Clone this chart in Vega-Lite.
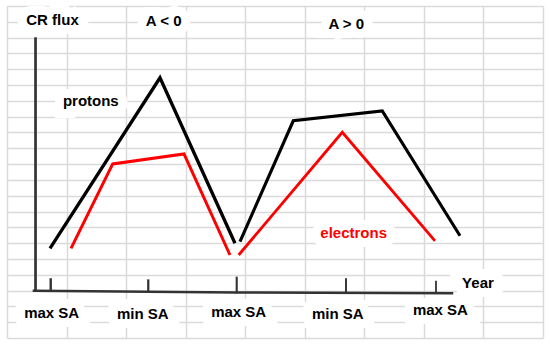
{
  "$schema": "https://vega.github.io/schema/vega-lite/v6.json",
  "width": 536,
  "height": 332,
  "autosize": {"type": "none"},
  "padding": {"left": 7, "top": 6, "right": 7, "bottom": 7},
  "background": "white",
  "config": {"view": {"stroke": null}},
  "datasets": {
    "lines": [
      {"seg": "p1", "series": "protons", "i": 0, "x": 0.722, "y": 5.674},
      {"seg": "p1", "series": "protons", "i": 1, "x": 2.569, "y": 16.46},
      {"seg": "p1", "series": "protons", "i": 2, "x": 3.828, "y": 5.99},
      {"seg": "p2", "series": "protons", "i": 0, "x": 3.912, "y": 6.09},
      {"seg": "p2", "series": "protons", "i": 1, "x": 4.807, "y": 13.74},
      {"seg": "p2", "series": "protons", "i": 2, "x": 6.301, "y": 14.36},
      {"seg": "p2", "series": "protons", "i": 3, "x": 7.606, "y": 6.47},
      {"seg": "e1", "series": "electrons", "i": 0, "x": 1.075, "y": 5.674},
      {"seg": "e1", "series": "electrons", "i": 1, "x": 1.775, "y": 11.01},
      {"seg": "e1", "series": "electrons", "i": 2, "x": 2.972, "y": 11.64},
      {"seg": "e1", "series": "electrons", "i": 3, "x": 3.744, "y": 5.25},
      {"seg": "e2", "series": "electrons", "i": 0, "x": 3.89, "y": 5.25},
      {"seg": "e2", "series": "electrons", "i": 1, "x": 5.63, "y": 13.01},
      {"seg": "e2", "series": "electrons", "i": 2, "x": 7.186, "y": 6.14},
      {"seg": "yaxis", "series": "axis", "i": 0, "x": 0.479, "y": 19.02},
      {"seg": "yaxis", "series": "axis", "i": 1, "x": 0.479, "y": 2.99},
      {"seg": "xaxis", "series": "axis", "i": 0, "x": 0.431, "y": 2.99},
      {"seg": "xaxis", "series": "axis", "i": 1, "x": 3.857, "y": 2.88},
      {"seg": "xaxis", "series": "axis", "i": 2, "x": 7.493, "y": 2.83},
      {"seg": "tick1", "series": "axis", "i": 0, "x": 0.734, "y": 3.78},
      {"seg": "tick1", "series": "axis", "i": 1, "x": 0.734, "y": 2.99},
      {"seg": "tick2", "series": "axis", "i": 0, "x": 2.372, "y": 3.71},
      {"seg": "tick2", "series": "axis", "i": 1, "x": 2.372, "y": 2.92},
      {"seg": "tick3", "series": "axis", "i": 0, "x": 3.857, "y": 3.88},
      {"seg": "tick3", "series": "axis", "i": 1, "x": 3.857, "y": 2.83},
      {"seg": "tick4", "series": "axis", "i": 0, "x": 5.692, "y": 3.78},
      {"seg": "tick4", "series": "axis", "i": 1, "x": 5.692, "y": 2.86},
      {"seg": "tick5", "series": "axis", "i": 0, "x": 7.203, "y": 3.62},
      {"seg": "tick5", "series": "axis", "i": 1, "x": 7.203, "y": 2.83}
    ],
    "labels": [
      {"text": "CR flux", "series": "annotation", "x": 0.764, "y": 19.8},
      {"text": "A < 0", "series": "annotation", "x": 2.631, "y": 19.75},
      {"text": "A > 0", "series": "annotation", "x": 5.697, "y": 19.53},
      {"text": "protons", "series": "protons", "x": 1.407, "y": 14.69},
      {"text": "electrons", "series": "electrons", "x": 5.821, "y": 6.31},
      {"text": "Year", "series": "annotation", "x": 7.908, "y": 3.14},
      {"text": "max SA", "series": "annotation", "x": 0.75, "y": 1.25},
      {"text": "min SA", "series": "annotation", "x": 2.28, "y": 1.2},
      {"text": "max SA", "series": "annotation", "x": 3.89, "y": 1.31},
      {"text": "min SA", "series": "annotation", "x": 5.554, "y": 1.2},
      {"text": "max SA", "series": "annotation", "x": 7.278, "y": 1.45}
    ]
  },
  "encoding": {
    "x": {
      "field": "x", "type": "quantitative",
      "scale": {"domain": [0, 9], "nice": false, "zero": false},
      "axis": {"values": [0,1,2,3,4,5,6,7,8,9], "grid": true, "gridColor": "#dadada", "gridWidth": 1.5, "labels": false, "ticks": false, "domain": false, "title": null, "minExtent": 0, "maxExtent": 0, "offset": 0}
    },
    "y": {
      "field": "y", "type": "quantitative",
      "scale": {"domain": [0, 21], "nice": false, "zero": false},
      "axis": {"values": [0,1,2,3,4,5,6,7,8,9,10,11,12,13,14,15,16,17,18,19,20,21], "grid": true, "gridColor": "#dadada", "gridWidth": 1.5, "labels": false, "ticks": false, "domain": false, "title": null, "minExtent": 0, "maxExtent": 0, "offset": 0}
    }
  },
  "layer": [
    {
      "data": {"name": "labels"},
      "mark": {"type": "text", "font": "Liberation Sans", "fontWeight": "bold", "fontSize": 15, "align": "center", "baseline": "alphabetic", "fill": "white", "stroke": "white", "strokeWidth": 18, "strokeJoin": "miter"},
      "encoding": {"text": {"field": "text"}}
    },
    {
      "data": {"name": "lines"},
      "mark": {"type": "line", "strokeCap": "butt", "strokeJoin": "miter"},
      "encoding": {
        "detail": {"field": "seg"},
        "order": {"field": "i", "type": "quantitative"},
        "color": {"field": "series", "type": "nominal", "legend": null,
          "scale": {"domain": ["protons", "electrons", "axis", "annotation"], "range": ["#000000", "#ff0000", "#333333", "#000000"]}},
        "strokeWidth": {"field": "seg", "type": "nominal", "legend": null,
          "scale": {"domain": ["p1", "p2", "e1", "e2", "yaxis", "xaxis", "tick1", "tick2", "tick3", "tick4", "tick5"], "range": [3.3, 1.8, 2.3, 2.3, 1.5, 1.8, 1.5, 1.5, 2.5, 1.5, 1.5]}}
      }
    },
    {
      "data": {"name": "labels"},
      "mark": {"type": "text", "font": "Liberation Sans", "fontWeight": "bold", "fontSize": 15, "align": "center", "baseline": "alphabetic"},
      "encoding": {
        "text": {"field": "text"},
        "color": {"field": "series", "type": "nominal", "legend": null,
          "scale": {"domain": ["protons", "electrons", "axis", "annotation"], "range": ["#000000", "#ff0000", "#333333", "#000000"]}}
      }
    }
  ]
}
